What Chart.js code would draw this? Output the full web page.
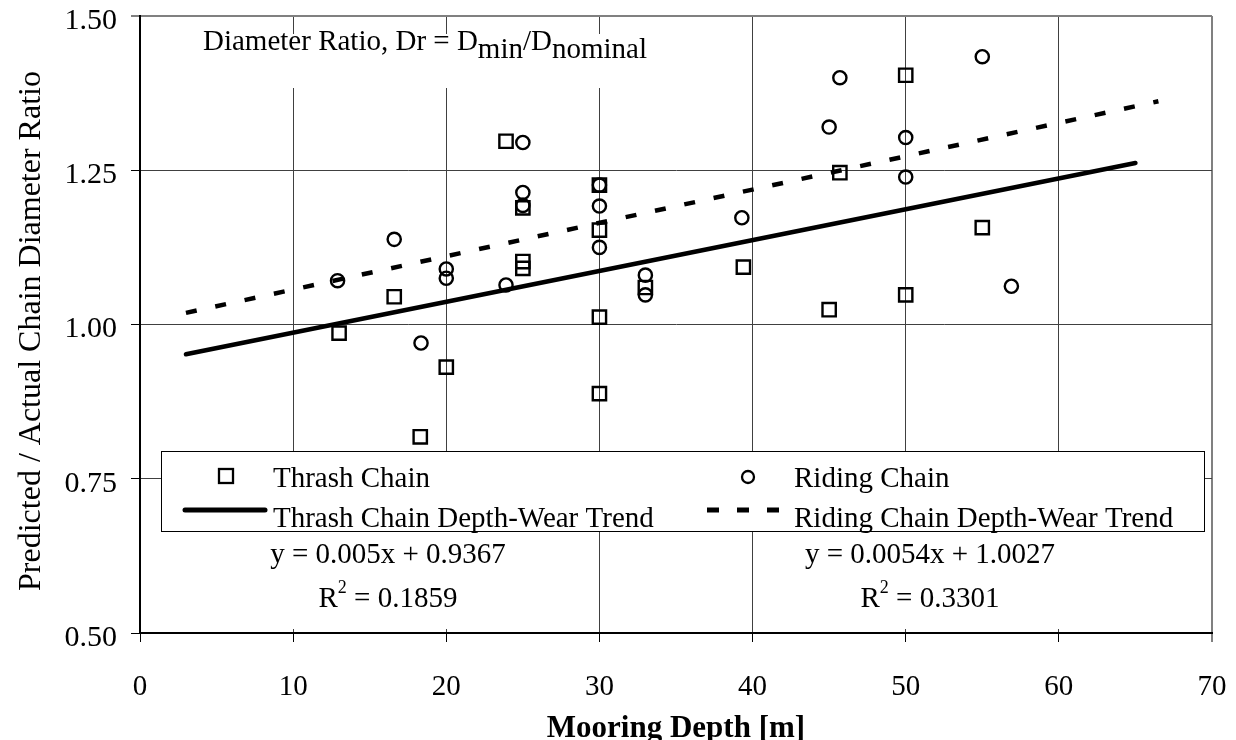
<!DOCTYPE html>
<html>
<head>
<meta charset="utf-8">
<script src="https://cdn.jsdelivr.net/npm/chart.js@4.4.1/dist/chart.umd.min.js"></script>
<style>
  html, body { margin: 0; padding: 0; background: #fff; }
  canvas { display: block; }
</style>
</head>
<body>
<canvas id="chart" width="1236" height="740"></canvas>
<script>
// Thrash chain measurements: mooring depth [m] and predicted/actual diameter ratio
const thrashDepth = [13, 16.6, 18.3, 20, 23.9, 25, 25, 25, 30, 30, 30, 30, 33, 39.4, 45, 45.7, 50, 50, 55];
const thrashRatio = [0.986, 1.045, 0.818, 0.931, 1.297, 1.189, 1.102, 1.091, 1.226, 1.153, 1.012, 0.888, 1.060, 1.093, 1.024, 1.246, 1.404, 1.048, 1.157];

// Riding chain measurements
const ridingDepth = [12.9, 16.6, 18.35, 20, 20, 23.9, 25, 25, 25, 30, 30, 30, 33, 33, 39.3, 45, 45.7, 50, 50, 55, 56.9];
const ridingRatio = [1.071, 1.138, 0.970, 1.090, 1.075, 1.064, 1.295, 1.214, 1.193, 1.226, 1.192, 1.125, 1.080, 1.048, 1.173, 1.320, 1.400, 1.303, 1.239, 1.434, 1.062];

// Linear trend lines (slope, intercept, R^2, fitted depth range)
const trendSlope = [0.005, 0.0054];
const trendIntercept = [0.9367, 1.0027];
const trendR2 = ['0.1859', '0.3301'];
const trendFrom = [3, 3];
const trendTo = [65, 66.5];

const seriesNames = ['Thrash Chain', 'Riding Chain', 'Thrash Chain Depth-Wear Trend', 'Riding Chain Depth-Wear Trend'];

// Axis ticks
const xTicks = [0, 10, 20, 30, 40, 50, 60, 70];
const yTicks = [0.50, 0.75, 1.00, 1.25, 1.50];

const SERIF = "'Liberation Serif', 'Times New Roman', serif";

function toPoints(xs, ys) {
  return xs.map((x, i) => ({ x: x, y: ys[i] }));
}

function trendPoints(i) {
  return [trendFrom[i], trendTo[i]].map(x => ({ x: x, y: trendSlope[i] * x + trendIntercept[i] }));
}

// Draws one line of text made of pieces with their own size / baseline shift
function drawPieces(ctx, pieces, x, y, align) {
  let total = 0;
  pieces.forEach(p => {
    ctx.font = p.size + 'px ' + SERIF;
    p.w = ctx.measureText(p.text).width;
    total += p.w;
  });
  let cx = align === 'center' ? x - total / 2 : x;
  ctx.textAlign = 'left';
  ctx.textBaseline = 'alphabetic';
  pieces.forEach(p => {
    ctx.font = p.size + 'px ' + SERIF;
    ctx.fillText(p.text, cx, y + (p.dy || 0));
    cx += p.w;
  });
}

const overlay = {
  id: 'overlay',
  beforeDatasetsDraw(chart) {
    const ctx = chart.ctx;
    ctx.save();
    // white backgrounds behind the annotation and equation labels
    ctx.fillStyle = '#fff';
    ctx.fillRect(190, 34, 470, 54);
    ctx.fillRect(262, 532, 253, 97);
    ctx.fillRect(796, 532, 270, 97);
    ctx.restore();
  },
  afterDraw(chart) {
    const ctx = chart.ctx;
    const area = chart.chartArea;
    const yScale = chart.scales.y;
    ctx.save();
    ctx.fillStyle = '#000';
    ctx.strokeStyle = '#000';

    // y tick labels
    ctx.font = '30px ' + SERIF;
    ctx.textAlign = 'right';
    ctx.textBaseline = 'middle';
    yTicks.forEach(v => {
      ctx.fillText(v.toFixed(2), 117, yScale.getPixelForValue(v) + 5);
    });

    // y axis title
    ctx.save();
    ctx.translate(40, 331);
    ctx.rotate(-Math.PI / 2);
    ctx.font = '32px ' + SERIF;
    ctx.textAlign = 'center';
    ctx.textBaseline = 'alphabetic';
    ctx.fillText('Predicted / Actual Chain Diameter Ratio', 0, 0);
    ctx.restore();

    // x axis title
    ctx.font = 'bold 31px ' + SERIF;
    ctx.textAlign = 'center';
    ctx.textBaseline = 'alphabetic';
    ctx.fillText('Mooring Depth [m]', (area.left + area.right) / 2, 737);

    // annotation
    drawPieces(ctx, [
      { text: 'Diameter Ratio, Dr = D', size: 29 },
      { text: 'min', size: 29, dy: 8 },
      { text: '/D', size: 29 },
      { text: 'nominal', size: 29, dy: 8 }
    ], 203, 50, 'left');

    // legend box
    ctx.fillStyle = '#fff';
    ctx.fillRect(161, 451, 1043, 80);
    ctx.lineWidth = 1;
    ctx.strokeRect(161.5, 451.5, 1043, 80);
    ctx.fillStyle = '#000';

    ctx.lineWidth = 2.3;
    ctx.strokeRect(219, 469, 14, 14);
    ctx.beginPath();
    ctx.arc(748, 477, 6, 0, Math.PI * 2);
    ctx.stroke();

    ctx.lineWidth = 5;
    ctx.lineCap = 'round';
    ctx.beginPath();
    ctx.moveTo(185, 510);
    ctx.lineTo(265, 510);
    ctx.stroke();
    ctx.lineCap = 'butt';
    ctx.setLineDash([12, 18]);
    ctx.beginPath();
    ctx.moveTo(707, 510);
    ctx.lineTo(779, 510);
    ctx.stroke();
    ctx.setLineDash([]);

    ctx.font = '29px ' + SERIF;
    ctx.textAlign = 'left';
    ctx.textBaseline = 'alphabetic';
    ctx.fillText(seriesNames[0], 273, 487);
    ctx.fillText(seriesNames[2], 273, 527);
    ctx.fillText(seriesNames[1], 794, 487);
    ctx.fillText(seriesNames[3], 794, 527);

    // trend line equations
    const eqX = [388, 930];
    eqX.forEach((x, i) => {
      drawPieces(ctx, [{ text: 'y = ' + trendSlope[i] + 'x + ' + trendIntercept[i], size: 29 }], x, 563, 'center');
      drawPieces(ctx, [
        { text: 'R', size: 29 },
        { text: '2', size: 18, dy: -14 },
        { text: ' = ' + trendR2[i], size: 29 }
      ], x, 607, 'center');
    });
    ctx.restore();
  }
};

const gridColor = c => (c.tick && (c.tick.value === 70 || c.tick.value === 1.5)) ? '#808080' : '#404040';
const gridWidth = c => (c.tick && (c.tick.value === 70 || c.tick.value === 1.5)) ? 2 : 1;

new Chart(document.getElementById('chart'), {
  type: 'scatter',
  data: {
    datasets: [
      {
        label: seriesNames[0],
        data: toPoints(thrashDepth, thrashRatio),
        pointStyle: 'rect',
        pointRadius: 9.4,
        borderColor: '#000',
        backgroundColor: 'rgba(0,0,0,0)',
        pointBorderWidth: 2.4
      },
      {
        label: seriesNames[1],
        data: toPoints(ridingDepth, ridingRatio),
        pointStyle: 'circle',
        pointRadius: 6.6,
        borderColor: '#000',
        backgroundColor: 'rgba(0,0,0,0)',
        pointBorderWidth: 2.4
      },
      {
        label: seriesNames[2],
        data: trendPoints(0),
        showLine: true,
        pointRadius: 0,
        borderColor: '#000',
        borderWidth: 4.5,
        borderCapStyle: 'round'
      },
      {
        label: seriesNames[3],
        data: trendPoints(1),
        showLine: true,
        pointRadius: 0,
        borderColor: '#000',
        borderWidth: 4.5,
        borderDash: [11, 19]
      }
    ]
  },
  options: {
    responsive: false,
    animation: false,
    devicePixelRatio: 1,
    layout: { padding: { top: 16, right: 24, left: 0, bottom: 0 } },
    plugins: {
      legend: { display: false },
      tooltip: { enabled: false }
    },
    scales: {
      x: {
        type: 'linear',
        min: 0,
        max: 70,
        afterBuildTicks: s => { s.ticks = xTicks.map(v => ({ value: v })); },
        afterFit: s => { s.height = 107; s.paddingLeft = 0; s.paddingRight = 0; },
        grid: { color: gridColor, lineWidth: gridWidth, tickLength: 9, tickColor: '#000', tickWidth: 1 },
        border: { color: '#000', width: 2 },
        ticks: { color: '#000', font: { family: SERIF, size: 29 }, padding: 28, maxRotation: 0, autoSkip: false }
      },
      y: {
        type: 'linear',
        min: 0.5,
        max: 1.5,
        afterBuildTicks: s => { s.ticks = yTicks.map(v => ({ value: v })); },
        afterFit: s => { s.width = 140; s.paddingTop = 0; s.paddingBottom = 0; },
        grid: { color: gridColor, lineWidth: gridWidth, tickLength: 9, tickColor: '#000', tickWidth: 1 },
        border: { color: '#000', width: 2 },
        ticks: { display: false }
      }
    }
  },
  plugins: [overlay]
});
</script>
</body>
</html>
